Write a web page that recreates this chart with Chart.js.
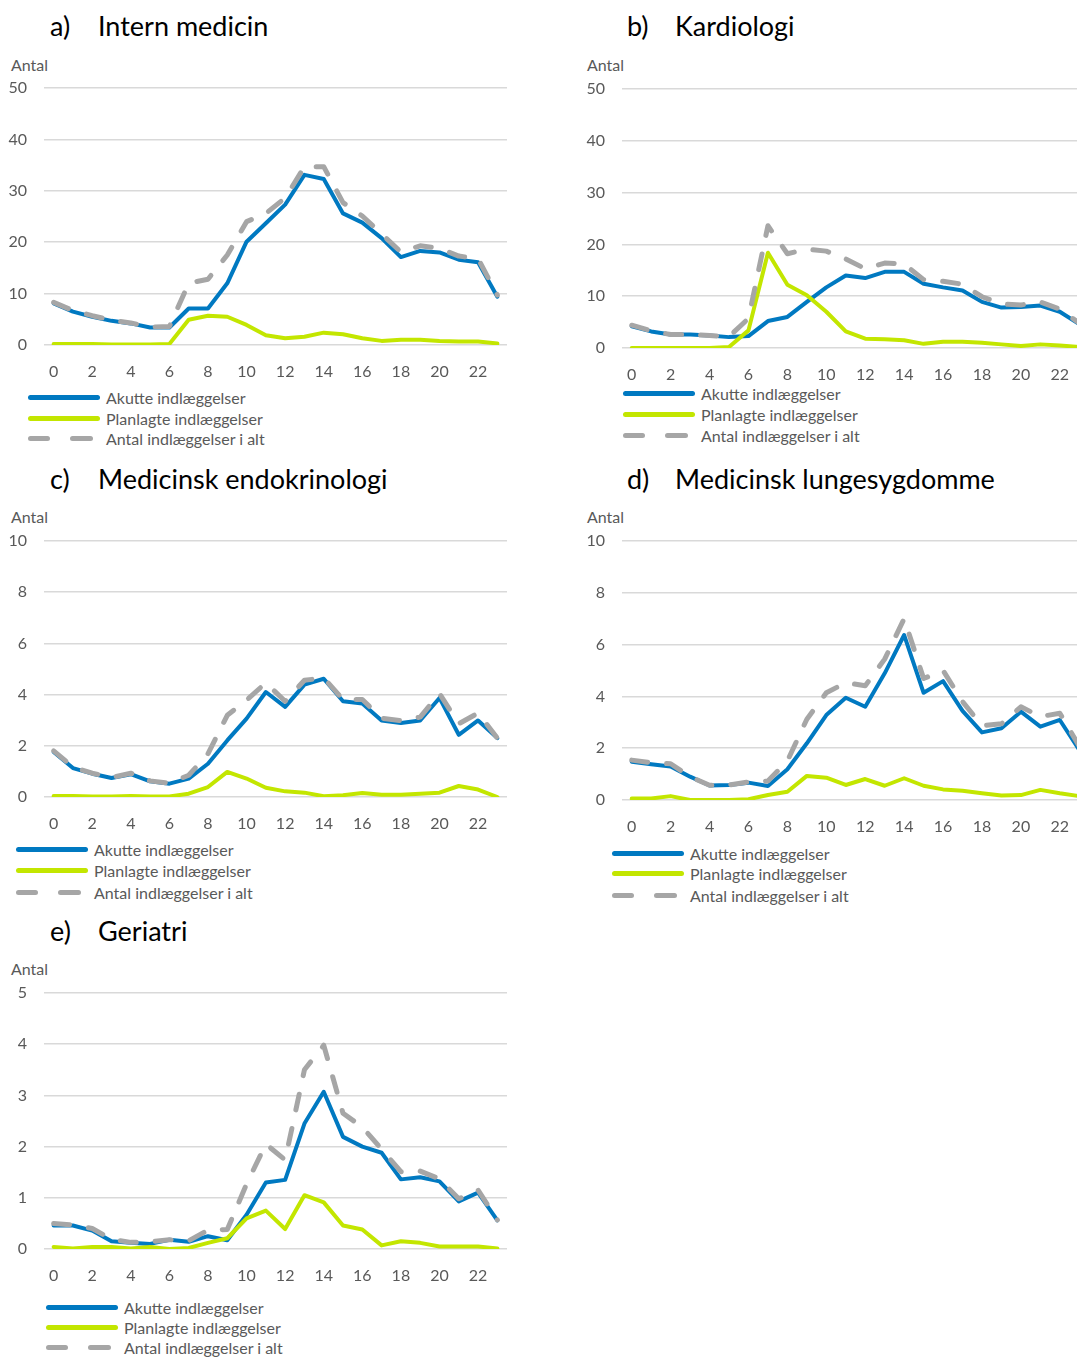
<!DOCTYPE html>
<html>
<head>
<meta charset="utf-8">
<script src="https://cdn.jsdelivr.net/npm/chart.js@4"></script>
<style>
  html, body { margin: 0; padding: 0; background: #fff; }
  body { width: 1077px; height: 1358px; position: relative; overflow: hidden; font-family: Lato, sans-serif; }
  canvas { position: absolute; }
  .title { position: absolute; font-size: 27px; line-height: 32px; height: 32px; color: #000; white-space: nowrap; }
  .antal { position: absolute; font-size: 16px; line-height: 20px; color: #595959; }
  .legend-row { position: absolute; height: 20px; display: flex; align-items: center; font-size: 16px; color: #595959; white-space: nowrap; }
  .sample { display: inline-flex; width: 72px; height: 5px; }
  .sw { display: inline-block; height: 5px; border-radius: 3px; }
</style>
</head>
<body>
<script>
// hours of the day on the x axis
const hours = ['0','1','2','3','4','5','6','7','8','9','10','11','12','13','14','15','16','17','18','19','20','21','22','23'];
const seriesNames = ['Akutte indlæggelser', 'Planlagte indlæggelser', 'Antal indlæggelser i alt'];

// a) Intern medicin
const aAkut  = [8.1, 6.5, 5.5, 4.7, 4.2, 3.4, 3.4, 7.1, 7.1, 12.0, 20.1, 23.7, 27.3, 33.1, 32.3, 25.6, 23.8, 20.8, 17.1, 18.3, 18.0, 16.6, 16.1, 9.4];
const aPlan  = [0.2, 0.2, 0.2, 0.1, 0.1, 0.1, 0.2, 4.9, 5.7, 5.5, 3.9, 1.9, 1.3, 1.6, 2.4, 2.1, 1.3, 0.8, 1.0, 1.0, 0.8, 0.7, 0.7, 0.3];
const aTotal = [8.3, 6.7, 5.7, 4.8, 4.3, 3.5, 3.6, 12.0, 12.8, 17.5, 24.0, 25.6, 28.6, 34.7, 34.7, 27.7, 25.1, 21.6, 18.1, 19.3, 18.8, 17.3, 16.8, 9.7];

// b) Kardiologi
const bAkut  = [4.2, 3.2, 2.6, 2.6, 2.4, 2.1, 2.3, 5.2, 6.0, 8.9, 11.7, 14.0, 13.5, 14.7, 14.7, 12.4, 11.7, 11.1, 8.9, 7.8, 7.9, 8.2, 7.0, 4.6];
const bPlan  = [0.0, 0.0, 0.0, 0.0, 0.0, 0.2, 3.4, 18.4, 12.2, 10.2, 7.0, 3.2, 1.8, 1.7, 1.5, 0.8, 1.2, 1.2, 1.0, 0.7, 0.4, 0.7, 0.5, 0.2];
const bTotal = [4.4, 3.3, 2.6, 2.6, 2.4, 2.2, 5.7, 23.6, 18.2, 19.1, 18.7, 17.2, 15.3, 16.4, 16.2, 13.2, 12.9, 12.3, 9.9, 8.5, 8.3, 8.9, 7.5, 4.8];

// c) Medicinsk endokrinologi
const cAkut  = [1.76, 1.13, 0.91, 0.74, 0.89, 0.61, 0.52, 0.72, 1.30, 2.21, 3.06, 4.10, 3.52, 4.39, 4.62, 3.74, 3.65, 2.99, 2.89, 2.99, 3.87, 2.43, 2.99, 2.30];
const cPlan  = [0.04, 0.04, 0.02, 0.02, 0.04, 0.02, 0.02, 0.13, 0.39, 0.98, 0.72, 0.36, 0.22, 0.17, 0.03, 0.07, 0.16, 0.09, 0.09, 0.13, 0.17, 0.43, 0.29, 0.0];
const cTotal = [1.80, 1.17, 0.93, 0.76, 0.93, 0.63, 0.54, 0.85, 1.69, 3.19, 3.78, 4.46, 3.74, 4.56, 4.65, 3.81, 3.81, 3.08, 2.98, 3.12, 4.04, 2.86, 3.28, 2.30];

// d) Medicinsk lungesygdomme
const dAkut  = [1.48, 1.38, 1.29, 0.90, 0.56, 0.58, 0.67, 0.54, 1.19, 2.19, 3.28, 3.95, 3.60, 4.89, 6.37, 4.14, 4.59, 3.44, 2.61, 2.77, 3.41, 2.83, 3.09, 1.93];
const dPlan  = [0.06, 0.06, 0.15, 0.0, 0.0, 0.0, 0.03, 0.19, 0.32, 0.93, 0.86, 0.58, 0.81, 0.55, 0.84, 0.55, 0.41, 0.36, 0.26, 0.17, 0.19, 0.39, 0.26, 0.15];
const dTotal = [1.54, 1.44, 1.40, 0.90, 0.57, 0.58, 0.70, 0.73, 1.51, 3.12, 4.14, 4.53, 4.41, 5.44, 7.0, 4.69, 5.0, 3.8, 2.87, 2.94, 3.6, 3.22, 3.35, 2.08];

// e) Geriatri
const eAkut  = [0.46, 0.46, 0.36, 0.15, 0.12, 0.10, 0.18, 0.14, 0.25, 0.17, 0.67, 1.30, 1.35, 2.45, 3.07, 2.19, 2.00, 1.88, 1.36, 1.40, 1.32, 0.93, 1.10, 0.56];
const ePlan  = [0.04, 0.01, 0.04, 0.04, 0.01, 0.04, 0.0, 0.02, 0.12, 0.21, 0.60, 0.75, 0.39, 1.05, 0.91, 0.46, 0.38, 0.07, 0.15, 0.12, 0.05, 0.05, 0.05, 0.01];
const eTotal = [0.50, 0.47, 0.40, 0.19, 0.13, 0.14, 0.18, 0.16, 0.37, 0.38, 1.27, 2.05, 1.74, 3.50, 3.98, 2.65, 2.38, 1.95, 1.51, 1.52, 1.37, 0.98, 1.15, 0.57];

const BLUE = '#0079C1', GREEN = '#C3E600', GRAY = '#A6A6A6', TEXT = '#595959';

// layout of each panel (pixel positions of the plot area)
const panels = [
  { tag: 'a)', name: 'Intern medicin', akut: aAkut, plan: aPlan, total: aTotal, max: 50, step: 10,
    left: 0, top: 88, w: 463, h: 257, titleX: 50, titleY: 26, antalX: 11, antalY: 65, legX: 28, legY: [397, 418, 438] },
  { tag: 'b)', name: 'Kardiologi', akut: bAkut, plan: bPlan, total: bTotal, max: 50, step: 10,
    left: 578, top: 89, w: 467, h: 259, titleX: 627, titleY: 26, antalX: 587, antalY: 65, legX: 623, legY: [393, 414, 435] },
  { tag: 'c)', name: 'Medicinsk endokrinologi', akut: cAkut, plan: cPlan, total: cTotal, max: 10, step: 2,
    left: 0, top: 541, w: 463, h: 256, titleX: 50, titleY: 479, antalX: 11, antalY: 517, legX: 16, legY: [849, 870, 892] },
  { tag: 'd)', name: 'Medicinsk lungesygdomme', akut: dAkut, plan: dPlan, total: dTotal, max: 10, step: 2,
    left: 578, top: 541, w: 467, h: 259, titleX: 627, titleY: 479, antalX: 587, antalY: 517, legX: 612, legY: [853, 873, 895] },
  { tag: 'e)', name: 'Geriatri', akut: eAkut, plan: ePlan, total: eTotal, max: 5, step: 1,
    left: 0, top: 993, w: 463, h: 256, titleX: 50, titleY: 931, antalX: 11, antalY: 969, legX: 46, legY: [1307, 1327, 1347] }
];

const Y_W = 44, PAD_TOP = 12, X_H = 40;

function addText(cls, text, x, y) {
  const el = document.createElement('div');
  el.className = cls;
  el.textContent = text;
  el.style.left = x + 'px';
  el.style.top = y + 'px';
  document.body.appendChild(el);
  return el;
}

function addLegend(p) {
  const colors = [BLUE, GREEN, GRAY];
  seriesNames.forEach((name, i) => {
    const row = document.createElement('div');
    row.className = 'legend-row';
    row.style.left = p.legX + 'px';
    row.style.top = (p.legY[i] - 10) + 'px';
    const sample = document.createElement('span');
    sample.className = 'sample';
    if (i < 2) {
      sample.innerHTML = '<span class="sw" style="width:72px;background:' + colors[i] + '"></span>';
    } else {
      sample.innerHTML = '<span class="sw" style="width:22px;background:' + GRAY + '"></span>' +
        '<span class="sw" style="width:23px;margin-left:20px;background:' + GRAY + '"></span>';
    }
    const label = document.createElement('span');
    label.style.marginLeft = '6px';
    label.textContent = name;
    row.appendChild(sample);
    row.appendChild(label);
    document.body.appendChild(row);
  });
}

// keep the plot area exactly where the layout says
function noScalePadding(s) {
  s.paddingTop = 0; s.paddingBottom = 0; s.paddingLeft = 0; s.paddingRight = 0;
}

panels.forEach(p => {
  addText('title', p.tag, p.titleX, p.titleY - 16);
  addText('title', p.name, p.titleX + 48, p.titleY - 16);
  addText('antal', 'Antal', p.antalX, p.antalY - 10);
  addLegend(p);

  const canvas = document.createElement('canvas');
  canvas.width = Y_W + p.w;
  canvas.height = PAD_TOP + p.h + X_H;
  canvas.style.left = (p.left) + 'px';
  canvas.style.top = (p.top - PAD_TOP) + 'px';
  document.body.appendChild(canvas);

  new Chart(canvas.getContext('2d'), {
    type: 'line',
    data: {
      labels: hours,
      datasets: [
        { label: seriesNames[0], data: p.akut, borderColor: BLUE, borderWidth: 4, order: 2 },
        { label: seriesNames[1], data: p.plan, borderColor: GREEN, borderWidth: 4, order: 1 },
        { label: seriesNames[2], data: p.total, borderColor: GRAY, borderWidth: 5, borderDash: [16, 19], order: 0 }
      ]
    },
    options: {
      responsive: false,
      animation: false,
      layout: { padding: { top: PAD_TOP, left: 0, right: 0, bottom: 0 } },
      elements: {
        point: { radius: 0 },
        line: { tension: 0, fill: false, borderCapStyle: 'round', borderJoinStyle: 'round' }
      },
      plugins: { legend: { display: false }, tooltip: { enabled: false } },
      scales: {
        x: {
          offset: true,
          grid: { display: false, drawTicks: false },
          border: { display: false },
          ticks: { autoSkip: false, maxRotation: 0, padding: 17, color: TEXT, font: { family: 'Lato', size: 16 },
                   callback: (v, i) => i % 2 === 0 ? hours[i] : '' },
          afterFit: s => { s.height = X_H; noScalePadding(s); }
        },
        y: {
          min: 0, max: p.max,
          grid: { color: '#D9D9D9', lineWidth: 1.5, drawTicks: false },
          border: { display: false },
          ticks: { stepSize: p.step, padding: 17, color: TEXT, font: { family: 'Lato', size: 16 } },
          afterFit: s => { s.width = Y_W; noScalePadding(s); }
        }
      }
    }
  });
});
</script>
</body>
</html>
